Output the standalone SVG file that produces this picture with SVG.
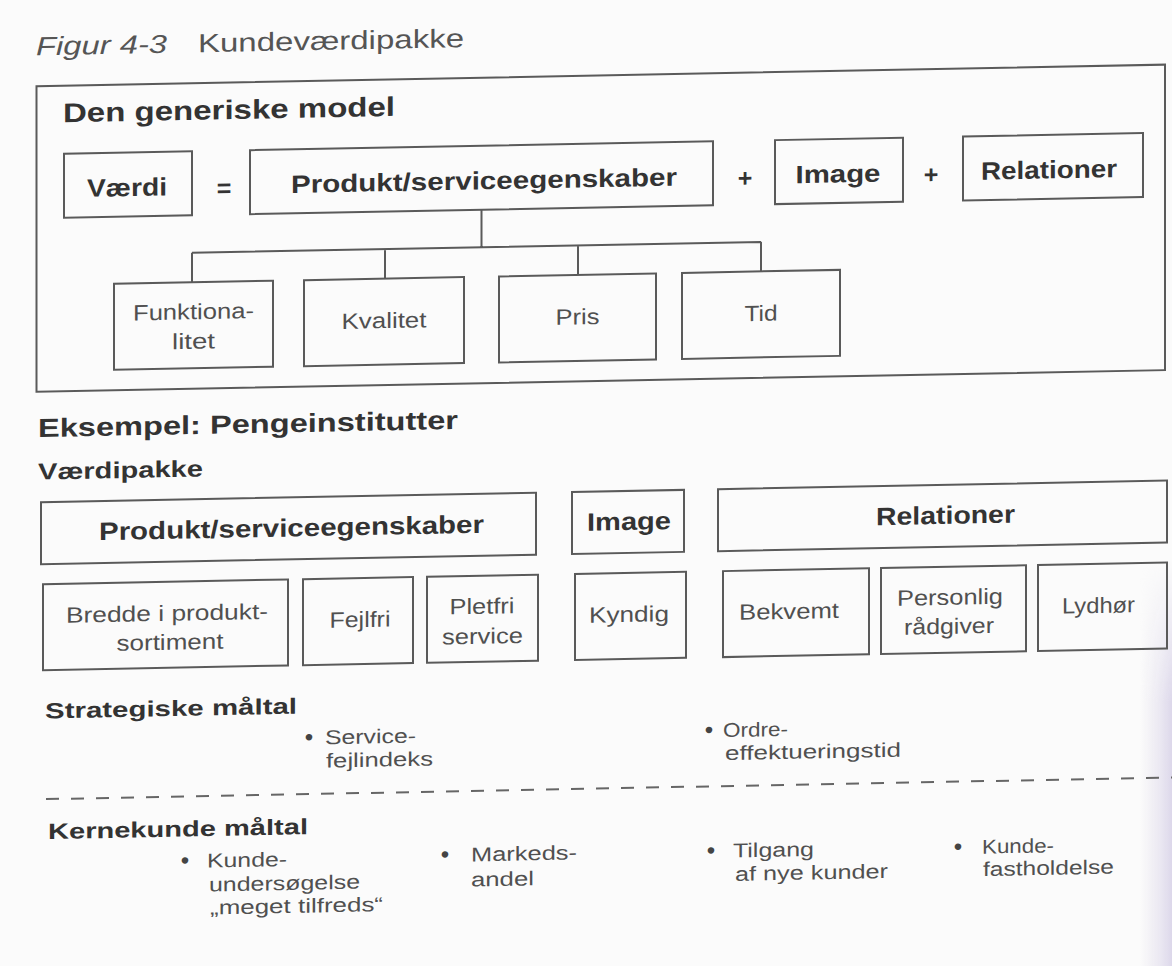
<svg xmlns="http://www.w3.org/2000/svg" width="1172" height="966" viewBox="0 0 1172 966">
<defs>
<style>
.bx{fill:none;stroke:#5a5a5a;stroke-width:2}
.t{font-family:"Liberation Sans",Arial,sans-serif;fill:#333}
.b{font-weight:bold}
.lab{font-size:25px;font-weight:bold;text-anchor:middle}
.sm{font-size:22px;fill:#505050;text-anchor:middle}
.bl{font-size:20px;fill:#505050}
.dot{font-size:24px;fill:#444;text-anchor:middle}
.con{fill:none;stroke:#5a5a5a;stroke-width:2}
</style>
<linearGradient id="edge" x1="0" y1="0" x2="1" y2="0">
<stop offset="0" stop-color="#e6e2ee" stop-opacity="0"/>
<stop offset="1" stop-color="#dcd7ea" stop-opacity="1"/>
</linearGradient>
<linearGradient id="fadeV" x1="0" y1="0" x2="0" y2="1">
<stop offset="0" stop-color="#fff" stop-opacity="0"/>
<stop offset="0.35" stop-color="#fff" stop-opacity="1"/>
<stop offset="1" stop-color="#fff" stop-opacity="1"/>
</linearGradient>
<mask id="edgeMask"><rect x="1140" y="560" width="32" height="406" fill="url(#fadeV)"/></mask>
</defs>
<rect width="1172" height="966" fill="#fbfbfb"/>
<rect x="1140" y="560" width="32" height="406" fill="url(#edge)" mask="url(#edgeMask)"/>
<g transform="skewY(-1.1)">
<g id="title">
<text class="t" x="36" y="56" font-size="26" font-style="italic" fill="#555" style="fill:#555" textLength="131" lengthAdjust="spacingAndGlyphs">Figur 4-3</text>
<text class="t" x="198" y="56" font-size="26" style="fill:#555" textLength="266" lengthAdjust="spacingAndGlyphs">Kundeværdipakke</text>
</g>
<g id="generic-frame">
<rect class="bx" x="36.5" y="87" width="1128.5" height="305.5"/>
<text class="t b" x="63" y="123.5" font-size="27" textLength="332" lengthAdjust="spacingAndGlyphs">Den generiske model</text>
</g>
<g id="connectors">
<path class="con" d="M481.5 219V256.5M192 256.5H761M192 256.5V286M385 256.5V286M578 256.5V286M761 256.5V286"/>
</g>
<g id="vaerdi">
<rect class="bx" x="64" y="155" width="128" height="64"/>
<text class="t lab" x="127" y="198.5" textLength="80" lengthAdjust="spacingAndGlyphs">Værdi</text>
</g>
<g id="op-eq"><text class="t lab" x="224" y="201">=</text></g>
<g id="produkt">
<rect class="bx" x="250" y="155" width="463" height="64"/>
<text class="t lab" x="484" y="198.5" textLength="386" lengthAdjust="spacingAndGlyphs">Produkt/serviceegenskaber</text>
</g>
<g id="op-plus1"><text class="t lab" x="745" y="201">+</text></g>
<g id="image">
<rect class="bx" x="775" y="155" width="128" height="64"/>
<text class="t lab" x="838" y="198.5" textLength="85" lengthAdjust="spacingAndGlyphs">Image</text>
</g>
<g id="op-plus2"><text class="t lab" x="931" y="201">+</text></g>
<g id="relationer">
<rect class="bx" x="963" y="155" width="180" height="64"/>
<text class="t lab" x="1049" y="198.5" textLength="136" lengthAdjust="spacingAndGlyphs">Relationer</text>
</g>
<g id="funktionalitet">
<rect class="bx" x="114" y="286" width="159" height="86"/>
<text class="t sm" x="193.5" y="323" textLength="121" lengthAdjust="spacingAndGlyphs">Funktiona-</text>
<text class="t sm" x="193.5" y="352.5" textLength="43" lengthAdjust="spacingAndGlyphs">litet</text>
</g>
<g id="kvalitet">
<rect class="bx" x="304" y="286" width="160" height="86"/>
<text class="t sm" x="384" y="335.5" textLength="85" lengthAdjust="spacingAndGlyphs">Kvalitet</text>
</g>
<g id="pris">
<rect class="bx" x="499" y="286" width="157" height="86"/>
<text class="t sm" x="577.5" y="335.5" textLength="44" lengthAdjust="spacingAndGlyphs">Pris</text>
</g>
<g id="tid">
<rect class="bx" x="682" y="286" width="158" height="86"/>
<text class="t sm" x="761" y="335.5" textLength="33" lengthAdjust="spacingAndGlyphs">Tid</text>
</g>
<g id="eksempel">
<text class="t b" x="38" y="437.8" font-size="26" textLength="420" lengthAdjust="spacingAndGlyphs">Eksempel: Pengeinstitutter</text>
<text class="t b" x="38" y="480.3" font-size="23" textLength="165" lengthAdjust="spacingAndGlyphs">Værdipakke</text>
</g>
<g id="ex-produkt">
<rect class="bx" x="41" y="503" width="495" height="62"/>
<text class="t lab" x="291.5" y="542" textLength="385" lengthAdjust="spacingAndGlyphs">Produkt/serviceegenskaber</text>
</g>
<g id="ex-image">
<rect class="bx" x="572" y="503" width="112" height="62"/>
<text class="t lab" x="629" y="542" textLength="84" lengthAdjust="spacingAndGlyphs">Image</text>
</g>
<g id="ex-relationer">
<rect class="bx" x="718" y="503" width="449" height="62"/>
<text class="t lab" x="945.5" y="542" textLength="139" lengthAdjust="spacingAndGlyphs">Relationer</text>
</g>
<g id="bredde">
<rect class="bx" x="43" y="585" width="245" height="86"/>
<text class="t sm" x="167" y="624" textLength="202" lengthAdjust="spacingAndGlyphs">Bredde i produkt-</text>
<text class="t sm" x="170" y="653" textLength="107" lengthAdjust="spacingAndGlyphs">sortiment</text>
</g>
<g id="fejlfri">
<rect class="bx" x="303" y="585" width="110" height="86"/>
<text class="t sm" x="360" y="634" textLength="61" lengthAdjust="spacingAndGlyphs">Fejlfri</text>
</g>
<g id="pletfri">
<rect class="bx" x="427" y="585" width="111" height="86"/>
<text class="t sm" x="482" y="623" textLength="65" lengthAdjust="spacingAndGlyphs">Pletfri</text>
<text class="t sm" x="482.5" y="653" textLength="81" lengthAdjust="spacingAndGlyphs">service</text>
</g>
<g id="kyndig">
<rect class="bx" x="575" y="585" width="111" height="86"/>
<text class="t sm" x="629" y="634" textLength="80" lengthAdjust="spacingAndGlyphs">Kyndig</text>
</g>
<g id="bekvemt">
<rect class="bx" x="723" y="585" width="146" height="86"/>
<text class="t sm" x="789" y="634" textLength="100" lengthAdjust="spacingAndGlyphs">Bekvemt</text>
</g>
<g id="personlig">
<rect class="bx" x="881" y="585" width="145" height="86"/>
<text class="t sm" x="950" y="623" textLength="106" lengthAdjust="spacingAndGlyphs">Personlig</text>
<text class="t sm" x="949" y="652" textLength="90" lengthAdjust="spacingAndGlyphs">rådgiver</text>
</g>
<g id="lydhoer">
<rect class="bx" x="1038" y="585" width="129" height="86"/>
<text class="t sm" x="1098.5" y="634" textLength="73" lengthAdjust="spacingAndGlyphs">Lydhør</text>
</g>
<g id="strategiske">
<text class="t b" x="45" y="719.3" font-size="22" textLength="252" lengthAdjust="spacingAndGlyphs">Strategiske måltal</text>
<text class="t dot" x="309" y="751">•</text>
<text class="t bl" x="325" y="750.5" textLength="91" lengthAdjust="spacingAndGlyphs">Service-</text>
<text class="t bl" x="326" y="773.8" textLength="107" lengthAdjust="spacingAndGlyphs">fejlindeks</text>
<text class="t dot" x="709" y="751.5">•</text>
<text class="t bl" x="723" y="751" textLength="65" lengthAdjust="spacingAndGlyphs">Ordre-</text>
<text class="t bl" x="725" y="774" textLength="176" lengthAdjust="spacingAndGlyphs">effektueringstid</text>
</g>
<g id="divider">
<line x1="46" y1="800" x2="1172" y2="800" stroke="#666" stroke-width="2" stroke-dasharray="13 12"/>
</g>
<g id="kernekunde">
<text class="t b" x="48" y="840" font-size="22" textLength="260" lengthAdjust="spacingAndGlyphs">Kernekunde måltal</text>
<text class="t dot" x="185" y="872">•</text>
<text class="t bl" x="207" y="871.5" textLength="80" lengthAdjust="spacingAndGlyphs">Kunde-</text>
<text class="t bl" x="209" y="895.5" textLength="151" lengthAdjust="spacingAndGlyphs">undersøgelse</text>
<text class="t bl" x="210" y="918.5" textLength="173" lengthAdjust="spacingAndGlyphs">„meget tilfreds“</text>
<text class="t dot" x="445" y="871">•</text>
<text class="t bl" x="471" y="870.5" textLength="106" lengthAdjust="spacingAndGlyphs">Markeds-</text>
<text class="t bl" x="471" y="895.5" textLength="63" lengthAdjust="spacingAndGlyphs">andel</text>
<text class="t dot" x="711" y="872">•</text>
<text class="t bl" x="733" y="871.5" textLength="81" lengthAdjust="spacingAndGlyphs">Tilgang</text>
<text class="t bl" x="735" y="895" textLength="153" lengthAdjust="spacingAndGlyphs">af nye kunder</text>
<text class="t dot" x="958" y="873">•</text>
<text class="t bl" x="982" y="872.5" textLength="72" lengthAdjust="spacingAndGlyphs">Kunde-</text>
<text class="t bl" x="983" y="895" textLength="131" lengthAdjust="spacingAndGlyphs">fastholdelse</text>
</g>
</g>
</svg>
